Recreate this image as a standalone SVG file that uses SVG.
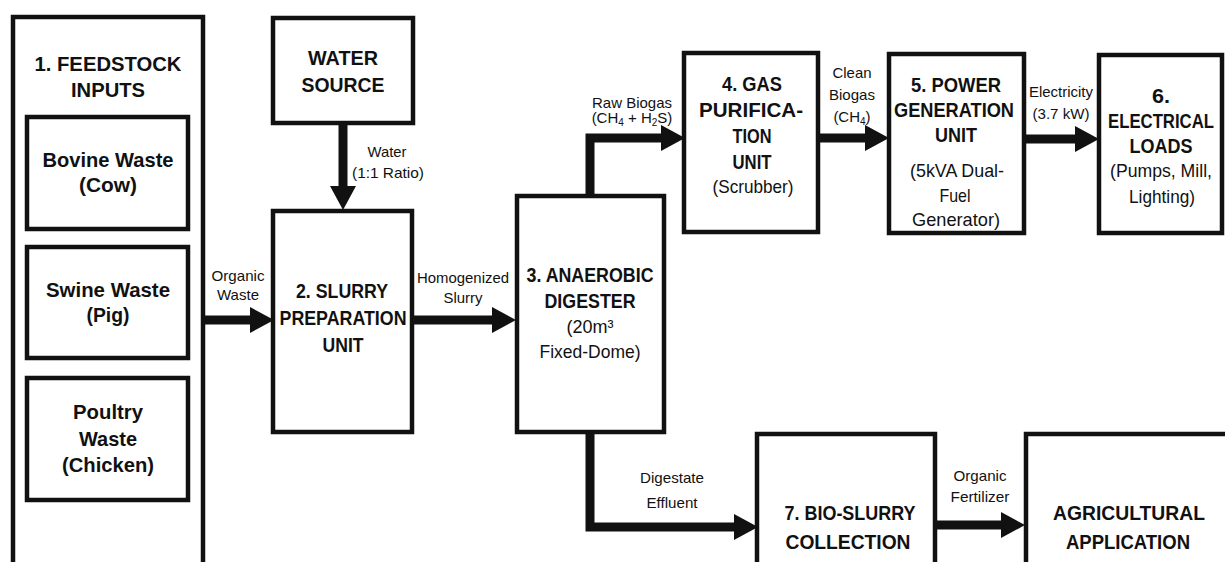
<svg xmlns="http://www.w3.org/2000/svg" width="1225" height="562" viewBox="0 0 1225 562">
<defs>
<style>
.box{fill:#fff;stroke:#111;stroke-width:4.5}
.t{font-family:"Liberation Sans",Arial,sans-serif;font-weight:bold;font-size:21px;fill:#111;text-anchor:middle}
.s{font-family:"Liberation Sans",Arial,sans-serif;font-size:19px;fill:#111;text-anchor:middle}
.l{font-family:"Liberation Sans",Arial,sans-serif;font-size:15px;fill:#111;text-anchor:middle}
.c{fill:none;stroke:#111;stroke-width:9;stroke-linejoin:miter}
</style>
<marker id="ah" markerUnits="userSpaceOnUse" markerWidth="24" markerHeight="26" refX="0" refY="13" orient="auto" overflow="visible">
<path d="M0,0 L24,13 L0,26 z" fill="#111"/>
</marker>
</defs>
<rect width="1225" height="562" fill="#fff"/>

<g id="feedstock">
<rect class="box" x="13" y="17" width="190" height="570"/>
<text class="t" x="108" y="71" textLength="147" lengthAdjust="spacingAndGlyphs">1. FEEDSTOCK</text>
<text class="t" x="108" y="97" textLength="74" lengthAdjust="spacingAndGlyphs">INPUTS</text>
</g>
<g id="bovine">
<rect class="box" x="27" y="117" width="161" height="112"/>
<text class="t" x="108" y="167" textLength="131" lengthAdjust="spacingAndGlyphs">Bovine Waste</text>
<text class="t" x="108" y="192" textLength="58" lengthAdjust="spacingAndGlyphs">(Cow)</text>
</g>
<g id="swine">
<rect class="box" x="27" y="247" width="161" height="111"/>
<text class="t" x="108" y="297" textLength="124" lengthAdjust="spacingAndGlyphs">Swine Waste</text>
<text class="t" x="108" y="322" textLength="43" lengthAdjust="spacingAndGlyphs">(Pig)</text>
</g>
<g id="poultry">
<rect class="box" x="27" y="378" width="161" height="122"/>
<text class="t" x="108" y="419" textLength="70" lengthAdjust="spacingAndGlyphs">Poultry</text>
<text class="t" x="108" y="446" textLength="58" lengthAdjust="spacingAndGlyphs">Waste</text>
<text class="t" x="108" y="472" textLength="92" lengthAdjust="spacingAndGlyphs">(Chicken)</text>
</g>
<g id="water">
<rect class="box" x="273" y="18" width="140" height="105"/>
<text class="t" x="343" y="65" textLength="70" lengthAdjust="spacingAndGlyphs">WATER</text>
<text class="t" x="343" y="92" textLength="83" lengthAdjust="spacingAndGlyphs">SOURCE</text>
</g>
<g id="slurry">
<rect class="box" x="273" y="211" width="139" height="221"/>
<text class="t" x="342" y="298" textLength="92" lengthAdjust="spacingAndGlyphs">2. SLURRY</text>
<text class="t" x="343" y="325" textLength="127" lengthAdjust="spacingAndGlyphs">PREPARATION</text>
<text class="t" x="343" y="352" textLength="41" lengthAdjust="spacingAndGlyphs">UNIT</text>
</g>
<g id="digester">
<rect class="box" x="517" y="196" width="147" height="236"/>
<text class="t" x="590" y="282" textLength="127" lengthAdjust="spacingAndGlyphs">3. ANAEROBIC</text>
<text class="t" x="590" y="308" textLength="91" lengthAdjust="spacingAndGlyphs">DIGESTER</text>
<text class="s" x="590" y="333" textLength="47" lengthAdjust="spacingAndGlyphs">(20m³</text>
<text class="s" x="590" y="358" textLength="101" lengthAdjust="spacingAndGlyphs">Fixed-Dome)</text>
</g>
<g id="gas">
<rect class="box" x="684" y="53" width="134" height="179"/>
<text class="t" x="752" y="91" textLength="60" lengthAdjust="spacingAndGlyphs">4. GAS</text>
<text class="t" x="751" y="117" textLength="104" lengthAdjust="spacingAndGlyphs">PURIFICA-</text>
<text class="t" x="752" y="143" textLength="39" lengthAdjust="spacingAndGlyphs">TION</text>
<text class="t" x="752" y="169" textLength="39" lengthAdjust="spacingAndGlyphs">UNIT</text>
<text class="s" x="753" y="193" textLength="81" lengthAdjust="spacingAndGlyphs">(Scrubber)</text>
</g>
<g id="power">
<rect class="box" x="889" y="54" width="135" height="179"/>
<text class="t" x="956" y="92" textLength="90" lengthAdjust="spacingAndGlyphs">5. POWER</text>
<text class="t" x="954" y="117" textLength="120" lengthAdjust="spacingAndGlyphs">GENERATION</text>
<text class="t" x="956" y="142" textLength="42" lengthAdjust="spacingAndGlyphs">UNIT</text>
<text class="s" x="957" y="177" textLength="94" lengthAdjust="spacingAndGlyphs">(5kVA Dual-</text>
<text class="s" x="955" y="202" textLength="31" lengthAdjust="spacingAndGlyphs">Fuel</text>
<text class="s" x="956" y="226" textLength="88" lengthAdjust="spacingAndGlyphs">Generator)</text>
</g>
<g id="loads">
<rect class="box" x="1099" y="55" width="123" height="178"/>
<text class="t" x="1161" y="103" textLength="18" lengthAdjust="spacingAndGlyphs">6.</text>
<text class="t" x="1161" y="128" textLength="106" lengthAdjust="spacingAndGlyphs">ELECTRICAL</text>
<text class="t" x="1161" y="153" textLength="63" lengthAdjust="spacingAndGlyphs">LOADS</text>
<text class="s" x="1161" y="177" textLength="102" lengthAdjust="spacingAndGlyphs">(Pumps, Mill,</text>
<text class="s" x="1162" y="203" textLength="66" lengthAdjust="spacingAndGlyphs">Lighting)</text>
</g>
<g id="bioslurry">
<rect class="box" x="757" y="434" width="178" height="200"/>
<text class="t" x="850" y="520" textLength="131" lengthAdjust="spacingAndGlyphs">7. BIO-SLURRY</text>
<text class="t" x="848" y="549" textLength="125" lengthAdjust="spacingAndGlyphs">COLLECTION</text>
</g>
<g id="agri">
<rect class="box" x="1026" y="434" width="215" height="200"/>
<text class="t" x="1129" y="520" textLength="152" lengthAdjust="spacingAndGlyphs">AGRICULTURAL</text>
<text class="t" x="1128" y="549" textLength="124" lengthAdjust="spacingAndGlyphs">APPLICATION</text>
</g>

<g id="connectors">
<path class="c" d="M203,320 H250" marker-end="url(#ah)"/>
<path class="c" d="M343,123 V186" marker-end="url(#ah)"/>
<path class="c" d="M412,320 H492" marker-end="url(#ah)"/>
<path class="c" d="M590,196 V138 H661" marker-end="url(#ah)"/>
<path class="c" d="M818,138 H865" marker-end="url(#ah)"/>
<path class="c" d="M1024,139 H1075" marker-end="url(#ah)"/>
<path class="c" d="M590,432 V527 H734" marker-end="url(#ah)"/>
<path class="c" d="M935,525 H1001" marker-end="url(#ah)"/>
</g>

<g id="labels">
<text class="l" x="238" y="281" textLength="53" lengthAdjust="spacingAndGlyphs">Organic</text>
<text class="l" x="238" y="300" textLength="42" lengthAdjust="spacingAndGlyphs">Waste</text>
<text class="l" x="387" y="157" textLength="39" lengthAdjust="spacingAndGlyphs">Water</text>
<text class="l" x="388" y="178" textLength="72" lengthAdjust="spacingAndGlyphs">(1:1 Ratio)</text>
<text class="l" x="463" y="283" textLength="92" lengthAdjust="spacingAndGlyphs">Homogenized</text>
<text class="l" x="463" y="303" textLength="39" lengthAdjust="spacingAndGlyphs">Slurry</text>
<text class="l" x="632" y="108" textLength="80" lengthAdjust="spacingAndGlyphs">Raw Biogas</text>
<text class="l" x="632" y="123">(CH<tspan font-size="10" dy="3">4</tspan><tspan dy="-3"> + H</tspan><tspan font-size="10" dy="3">2</tspan><tspan dy="-3">S)</tspan></text>
<text class="l" x="852" y="78" textLength="39" lengthAdjust="spacingAndGlyphs">Clean</text>
<text class="l" x="852" y="100" textLength="46" lengthAdjust="spacingAndGlyphs">Biogas</text>
<text class="l" x="852" y="122">(CH<tspan font-size="10" dy="3">4</tspan><tspan dy="-3">)</tspan></text>
<text class="l" x="1061" y="97" textLength="64" lengthAdjust="spacingAndGlyphs">Electricity</text>
<text class="l" x="1061" y="119" textLength="57" lengthAdjust="spacingAndGlyphs">(3.7 kW)</text>
<text class="l" x="672" y="483" textLength="64" lengthAdjust="spacingAndGlyphs">Digestate</text>
<text class="l" x="672" y="508" textLength="51" lengthAdjust="spacingAndGlyphs">Effluent</text>
<text class="l" x="980" y="481" textLength="53" lengthAdjust="spacingAndGlyphs">Organic</text>
<text class="l" x="980" y="502" textLength="59" lengthAdjust="spacingAndGlyphs">Fertilizer</text>
</g>
</svg>
